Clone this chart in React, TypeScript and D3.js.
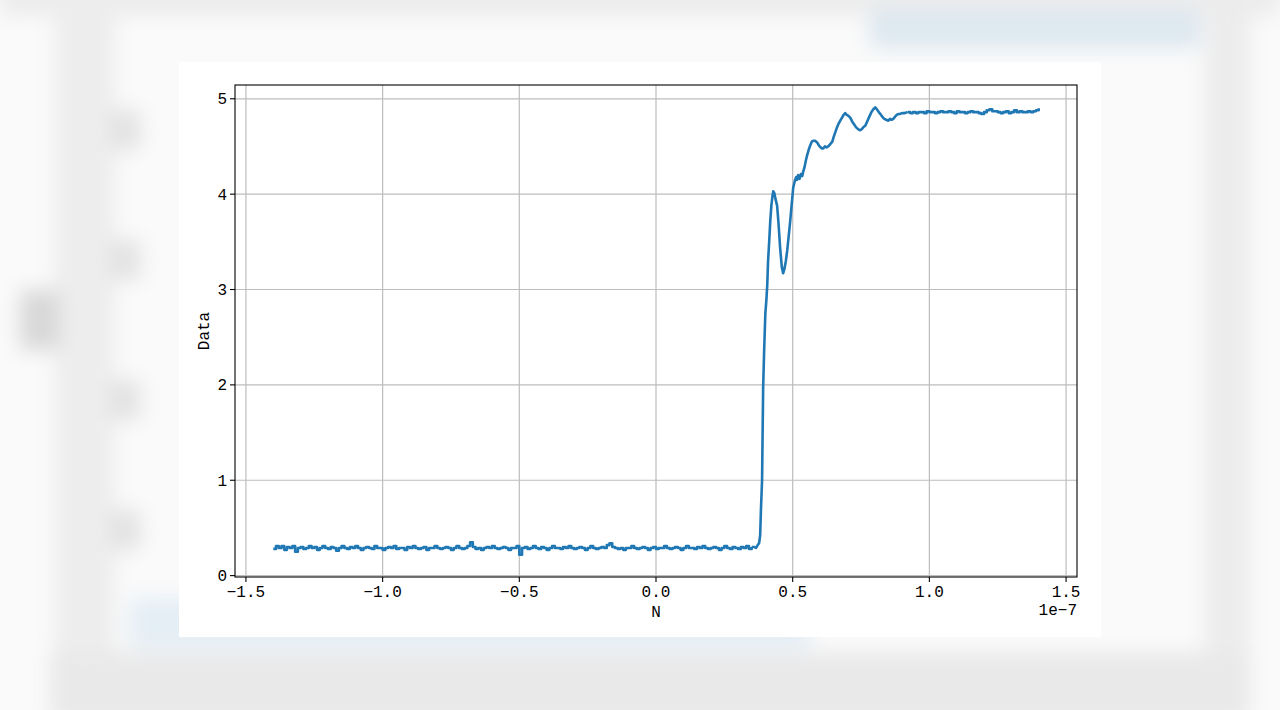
import React from "react";
import * as d3 from "d3";

// sample times are in units of 1e-7
const flatStart = -1.4;
const flatStep = 0.01;
const flatValues = [
  0.28, 0.31, 0.29, 0.31, 0.27, 0.30, 0.29, 0.31, 0.25, 0.29,
  0.30, 0.28, 0.29, 0.31, 0.29, 0.30, 0.27, 0.29, 0.31, 0.29,
  0.28, 0.30, 0.29, 0.26, 0.29, 0.31, 0.29, 0.28, 0.30, 0.29,
  0.31, 0.29, 0.27, 0.29, 0.30, 0.29, 0.28, 0.31, 0.29, 0.29,
  0.27, 0.29, 0.30, 0.29, 0.31, 0.28, 0.29, 0.29, 0.27, 0.30,
  0.29, 0.31, 0.29, 0.28, 0.29, 0.30, 0.27, 0.29, 0.29, 0.31,
  0.29, 0.28, 0.29, 0.30, 0.29, 0.27, 0.29, 0.31, 0.29, 0.28,
  0.29, 0.31, 0.35, 0.30, 0.28, 0.29, 0.27, 0.29, 0.30, 0.29,
  0.31, 0.29, 0.28, 0.29, 0.30, 0.29, 0.27, 0.29, 0.29, 0.31,
  0.22, 0.29, 0.30, 0.28, 0.29, 0.31, 0.29, 0.28, 0.30, 0.29,
  0.27, 0.29, 0.31, 0.29, 0.29, 0.28, 0.30, 0.29, 0.31, 0.29,
  0.28, 0.29, 0.30, 0.29, 0.27, 0.29, 0.31, 0.29, 0.28, 0.29,
  0.30, 0.29, 0.32, 0.34, 0.30, 0.29, 0.28, 0.29, 0.27, 0.29,
  0.29, 0.31, 0.29, 0.28, 0.29, 0.30, 0.29, 0.27, 0.29, 0.30,
  0.28, 0.29, 0.29, 0.31, 0.29, 0.28, 0.29, 0.30, 0.29, 0.27,
  0.29, 0.31, 0.29, 0.29, 0.28, 0.30, 0.29, 0.31, 0.29, 0.28,
  0.29, 0.30, 0.29, 0.27, 0.29, 0.31, 0.29, 0.28, 0.30, 0.29,
  0.28, 0.30, 0.29, 0.31, 0.28, 0.30,
];

// the edge and the ringing after it
const edgeX = [
  0.35, 0.36, 0.366, 0.372, 0.377, 0.381, 0.384, 0.388, 0.39, 0.392, 0.396,
  0.4, 0.404, 0.407, 0.41, 0.414, 0.418, 0.422, 0.426, 0.429, 0.433, 0.437,
  0.443, 0.448, 0.454, 0.46, 0.465, 0.47, 0.475, 0.48, 0.485, 0.491, 0.496,
  0.502, 0.508, 0.513, 0.516, 0.52, 0.525, 0.53, 0.535, 0.538, 0.543, 0.548,
  0.553, 0.558, 0.564, 0.57, 0.576, 0.582, 0.586, 0.59, 0.596, 0.602, 0.607,
  0.612, 0.618, 0.624, 0.63, 0.636, 0.645, 0.65, 0.656, 0.662, 0.668, 0.674,
  0.68, 0.686, 0.692, 0.698, 0.704, 0.711, 0.718, 0.725, 0.732, 0.74, 0.747,
  0.752, 0.758, 0.766, 0.772, 0.78, 0.788, 0.795, 0.802, 0.808, 0.815, 0.821,
  0.828, 0.835, 0.842, 0.85, 0.856, 0.862, 0.868, 0.874, 0.88, 0.886, 0.892,
  0.9, 0.91, 0.92,
];
const edgeY = [
  0.30, 0.30, 0.29, 0.32, 0.34, 0.42, 0.70, 1.00, 1.50, 1.98, 2.40,
  2.75, 2.90, 3.05, 3.30, 3.50, 3.72, 3.88, 3.98, 4.03, 4.01, 3.95,
  3.88, 3.70, 3.44, 3.24, 3.17, 3.22, 3.30, 3.41, 3.55, 3.72, 3.88,
  4.07, 4.14, 4.18, 4.15, 4.20, 4.16, 4.21, 4.19, 4.23, 4.28, 4.35,
  4.41, 4.46, 4.51, 4.55, 4.56, 4.56, 4.55, 4.54, 4.51, 4.49, 4.48,
  4.48, 4.50, 4.49, 4.50, 4.52, 4.55, 4.60, 4.65, 4.70, 4.74, 4.77,
  4.80, 4.83, 4.85, 4.83, 4.82, 4.80, 4.76, 4.73, 4.70, 4.68, 4.67,
  4.68, 4.70, 4.72, 4.76, 4.81, 4.86, 4.89, 4.91, 4.89, 4.86, 4.84,
  4.81, 4.79, 4.78, 4.77, 4.79, 4.78, 4.79, 4.81, 4.83, 4.84, 4.84,
  4.85, 4.85, 4.86,
];

const topStart = 0.92;
const topStep = 0.01;
const topValues = [
  4.86, 4.85, 4.86, 4.85, 4.86, 4.86, 4.85, 4.87, 4.86, 4.86, 4.85,
  4.86, 4.87, 4.86, 4.86, 4.87, 4.86, 4.85, 4.87, 4.86, 4.86, 4.85,
  4.86, 4.87, 4.86, 4.86, 4.85, 4.84, 4.86, 4.88, 4.89, 4.87, 4.87,
  4.86, 4.85, 4.86, 4.87, 4.85, 4.86, 4.88, 4.86, 4.87, 4.86, 4.86,
  4.87, 4.86, 4.87, 4.88, 4.90,
];

const xTicks = [-1.5, -1.0, -0.5, 0.0, 0.5, 1.0, 1.5];
const yTicks = [0, 1, 2, 3, 4, 5];

const W = 1280;
const H = 710;
const M = { left: 235, right: 1077, top: 85, bottom: 577 };
const FONT = "'Liberation Mono', 'DejaVu Sans Mono', monospace";
const BLUE = "#1f77b4";

type Pt = [number, number];

const flatPts: Pt[] = flatValues.map((v, i) => [flatStart + i * flatStep, v]);
const edgePts: Pt[] = edgeX.map((x, i) => [x, edgeY[i]]);
const topPts: Pt[] = topValues.map((v, i) => [topStart + i * topStep, v]);
const allPts = [...flatPts, ...edgePts, ...topPts];

// matplotlib style 5% margins
function padded(ext: [number, number]): [number, number] {
  const r = ext[1] - ext[0];
  return [ext[0] - r * 0.05, ext[1] + r * 0.05];
}

const x = d3.scaleLinear()
  .domain(padded(d3.extent(allPts, d => d[0]) as [number, number]))
  .range([M.left, M.right]);
const y = d3.scaleLinear()
  .domain(padded(d3.extent(allPts, d => d[1]) as [number, number]))
  .range([M.bottom, M.top]);

const stepLine = d3.line<Pt>().x(d => x(d[0])).y(d => y(d[1])).curve(d3.curveStepAfter);
const plainLine = d3.line<Pt>().x(d => x(d[0])).y(d => y(d[1]));

const fmtX = (v: number) => d3.format(".1f")(v).replace("-", "\u2212");

export default function App() {
  return (
    <svg width={W} height={H} style={{ position: "absolute", left: 0, top: 0, background: "#fafafa" }}>
      <defs>
        <filter id="soft" x="-20%" y="-20%" width="140%" height="140%">
          <feGaussianBlur stdDeviation="10" />
        </filter>
      </defs>

      {/* blurred page behind the figure */}
      <g filter="url(#soft)">
        <rect x={0} y={-20} width={W} height={36} fill="#ececec" />
        <rect x={55} y={0} width={60} height={H} fill="#ededed" />
        <rect x={20} y={290} width={40} height={60} fill="#d8d8d8" />
        <rect x={1205} y={0} width={45} height={H} fill="#ececec" />
        <rect x={50} y={652} width={1200} height={70} fill="#e9e9e9" />
        <rect x={870} y={10} width={330} height={38} fill="#dde8f0" />
        <rect x={130} y={598} width={680} height={50} fill="#e4eef5" />
        <rect x={110} y={110} width={30} height={40} fill="#e2e2e2" />
        <rect x={110} y={240} width={30} height={40} fill="#e2e2e2" />
        <rect x={110} y={380} width={30} height={40} fill="#e2e2e2" />
        <rect x={110} y={510} width={30} height={40} fill="#e2e2e2" />
      </g>

      {/* figure */}
      <rect x={179} y={62} width={922} height={575} fill="#ffffff" />

      {/* grid */}
      {xTicks.map(t => (
        <line key={"gx" + t} x1={x(t)} x2={x(t)} y1={M.top} y2={M.bottom} stroke="#bdbdbd" strokeWidth={1.2} />
      ))}
      {yTicks.map(t => (
        <line key={"gy" + t} x1={M.left} x2={M.right} y1={y(t)} y2={y(t)} stroke="#bdbdbd" strokeWidth={1.2} />
      ))}

      {/* signal */}
      <g fill="none" stroke={BLUE} strokeWidth={2.6} strokeLinejoin="round">
        <path d={stepLine(flatPts) ?? ""} />
        <path d={plainLine(edgePts) ?? ""} />
        <path d={stepLine(topPts) ?? ""} />
      </g>

      {/* frame */}
      <rect x={M.left} y={M.top} width={M.right - M.left} height={M.bottom - M.top}
        fill="none" stroke="#000" strokeWidth={1.1} />

      {/* axes text */}
      <g fontFamily={FONT} fontSize={16} fill="#000">
        {xTicks.map(t => (
          <g key={"tx" + t}>
            <line x1={x(t)} x2={x(t)} y1={M.bottom} y2={M.bottom + 5} stroke="#000" strokeWidth={1.1} />
            <text x={x(t)} y={M.bottom + 20} textAnchor="middle">{fmtX(t)}</text>
          </g>
        ))}
        {yTicks.map(t => (
          <g key={"ty" + t}>
            <line x1={M.left - 5} x2={M.left} y1={y(t)} y2={y(t)} stroke="#000" strokeWidth={1.1} />
            <text x={M.left - 8} y={y(t)} dy="0.35em" textAnchor="end">{t}</text>
          </g>
        ))}
        <text x={(M.left + M.right) / 2} y={M.bottom + 40} textAnchor="middle">N</text>
        <text x={M.right} y={M.bottom + 38} textAnchor="end">1e{"\u2212"}7</text>
        <text transform={`translate(${M.left - 26},${(M.top + M.bottom) / 2}) rotate(-90)`} textAnchor="middle">Data</text>
      </g>
    </svg>
  );
}
